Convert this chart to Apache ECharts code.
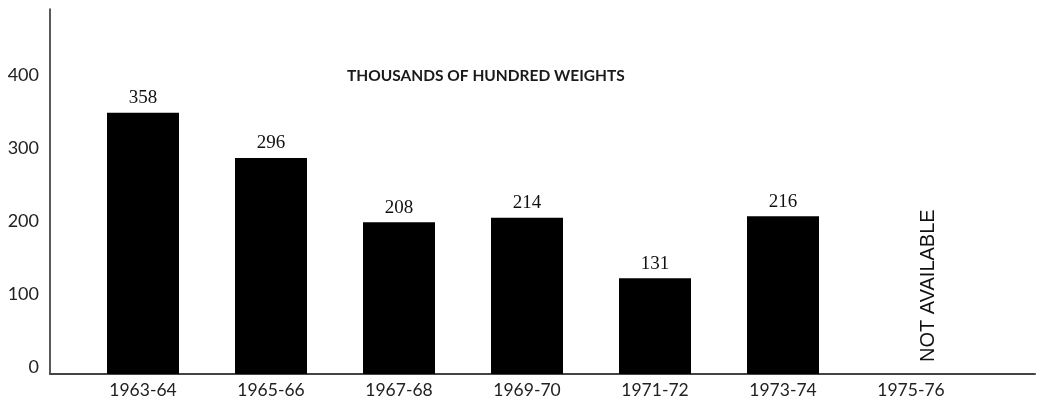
<!DOCTYPE html>
<html>
<head>
<meta charset="utf-8">
<script src="https://cdn.jsdelivr.net/npm/echarts@6/dist/echarts.min.js"></script>
<style>
  html, body { margin: 0; padding: 0; background: #fff; }
  #chart { width: 1039px; height: 402px; }
</style>
</head>
<body>
<div id="chart"></div>
<script>
// 数据
const seasons = ['1963-64', '1965-66', '1967-68', '1969-70', '1971-72', '1973-74', '1975-76']
const weights = [358, 296, 208, 214, 131, 216, null] // 1975-76 无数据
const missingNote = 'NOT AVAILABLE'
const yTicks = [0, 100, 200, 300, 400]

const chart = echarts.init(document.getElementById('chart'))

const option = {
  backgroundColor: '#fff',
  animation: false,
  title: {
    text: 'THOUSANDS OF HUNDRED WEIGHTS',
    left: 347,
    top: 68,
    padding: 0,
    textStyle: { fontFamily: 'Lato', fontSize: 15.5, fontWeight: 'bold', color: '#1a1a1a' }
  },
  grid: [
    { left: 50, right: 4, top: 9, bottom: 28 }, // 轴线
    { left: 79, width: 896, top: 9, bottom: 28 } // 柱子
  ],
  xAxis: [
    {
      gridIndex: 0, type: 'value', min: 0, max: 1,
      axisLine: { show: true, lineStyle: { color: '#444', width: 2 } },
      axisTick: { show: false }, axisLabel: { show: false }, splitLine: { show: false }
    },
    {
      gridIndex: 1, type: 'category', data: seasons,
      axisLine: { show: false }, axisTick: { show: false },
      axisLabel: { fontFamily: 'Lato', fontSize: 17.5, color: '#222', margin: 7 }
    }
  ],
  yAxis: [
    {
      gridIndex: 0, type: 'value', min: 0, max: 500, interval: 100,
      axisLine: { show: true, lineStyle: { color: '#222', width: 1.5 } },
      axisTick: { show: false }, splitLine: { show: false },
      axisLabel: {
        fontFamily: 'Lato', fontSize: 18, color: '#222', margin: 11,
        verticalAlign: 'bottom', lineHeight: 14,
        formatter: v => yTicks.includes(v) ? String(v) : ''
      }
    },
    {
      gridIndex: 1, type: 'value', min: 0, max: 500, show: false
    }
  ],
  series: [
    {
      type: 'bar',
      xAxisIndex: 1, yAxisIndex: 1,
      barWidth: 72,
      itemStyle: { color: '#000' },
      label: {
        show: true, position: 'top', distance: 5,
        fontFamily: 'Liberation Serif', fontSize: 19, color: '#111'
      },
      data: weights
    },
    {
      // 缺失年份的说明文字
      type: 'bar',
      xAxisIndex: 1, yAxisIndex: 1,
      barWidth: 72, barGap: '-100%',
      itemStyle: { color: 'transparent' },
      label: {
        show: true, position: 'top', distance: 12,
        rotate: 90, align: 'left', verticalAlign: 'middle',
        offset: [0, 17],
        formatter: () => missingNote,
        fontFamily: 'Liberation Sans', fontSize: 20, color: '#111'
      },
      data: weights.map(v => v === null ? 0 : '-')
    }
  ]
}

chart.setOption(option)
</script>
</body>
</html>
